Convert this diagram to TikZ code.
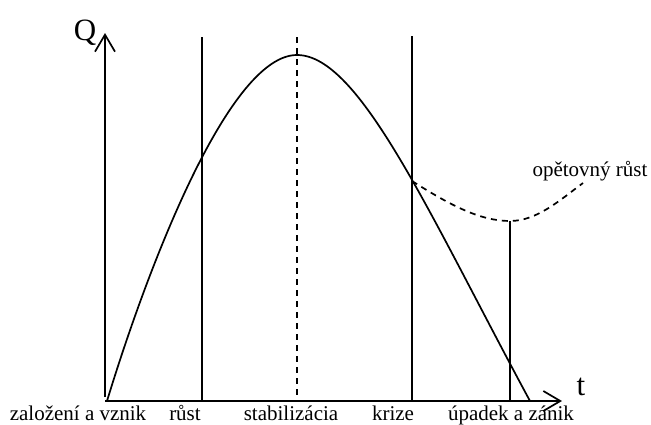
\documentclass[tikz,border=0pt]{standalone}
\usepackage{fontspec}
\setmainfont{Liberation Serif}
\usetikzlibrary{arrows.meta}
\begin{document}
\begin{tikzpicture}[x=1pt,y=-1pt, line width=1.7pt,
  lbl/.style={font=\fontsize{21}{25}\selectfont, anchor=base, inner sep=0pt},
  axlbl/.style={font=\fontsize{31}{36}\selectfont, anchor=base, inner sep=0pt},
  axisarrow/.style={-{Straight Barb[length=17pt,width=20pt,line width=1.7pt]}},
  dashline/.style={dash pattern=on 6pt off 5pt}]
\useasboundingbox (0,0) rectangle (651,424);
% coordinates
\coordinate (O) at (105,401);
\coordinate (Ybot) at (105,397);
\coordinate (Ytop) at (105,33);
\coordinate (Xtip) at (562,401);
\coordinate (S) at (107,401);
\coordinate (P) at (297,55);
\coordinate (K) at (412,181);
\coordinate (E) at (530,401);
\coordinate (M) at (508,221);
\coordinate (R) at (583,183);
\coordinate (A1) at (202,37);
\coordinate (A2) at (202,401);
\coordinate (B1) at (297,37);
\coordinate (B2) at (297,401);
\coordinate (C1) at (412,36);
\coordinate (C2) at (412,401);
\coordinate (D2) at (510,401);
% axes
\draw[axisarrow] (Ybot) -- (Ytop);
\draw[axisarrow] (O) -- (Xtip);
% phase lines
\draw (A1) -- (A2);
\draw[dashline] (B1) -- (B2);
\draw (C1) -- (C2);
\draw (M) ++(2,0) coordinate (M2) -- (D2);
% main curve
\draw (S) .. controls (150,260) and (230,55) .. (P)
          .. controls (360,55) and (430,216) .. (E);
% dashed renewal curve
\draw[dashline] (K) .. controls (450,205) and (480,221) .. (M2)
                    .. controls (537,221) and (560,200) .. (R);
% labels
\node[axlbl] (Q) at (85,40) {Q};
\node[axlbl] (T) at (581,395) {t};
\node[lbl] (L1) at (78,420) {založení a vznik};
\node[lbl] (L2) at (185,420) {růst};
\node[lbl] (L3) at (291,420) {stabilizácia};
\node[lbl] (L4) at (393,420) {krize};
\node[lbl] (L5) at (511,420) {úpadek a zánik};
\node[lbl] (L6) at (590,176) {opětovný růst};
\end{tikzpicture}
\end{document}
